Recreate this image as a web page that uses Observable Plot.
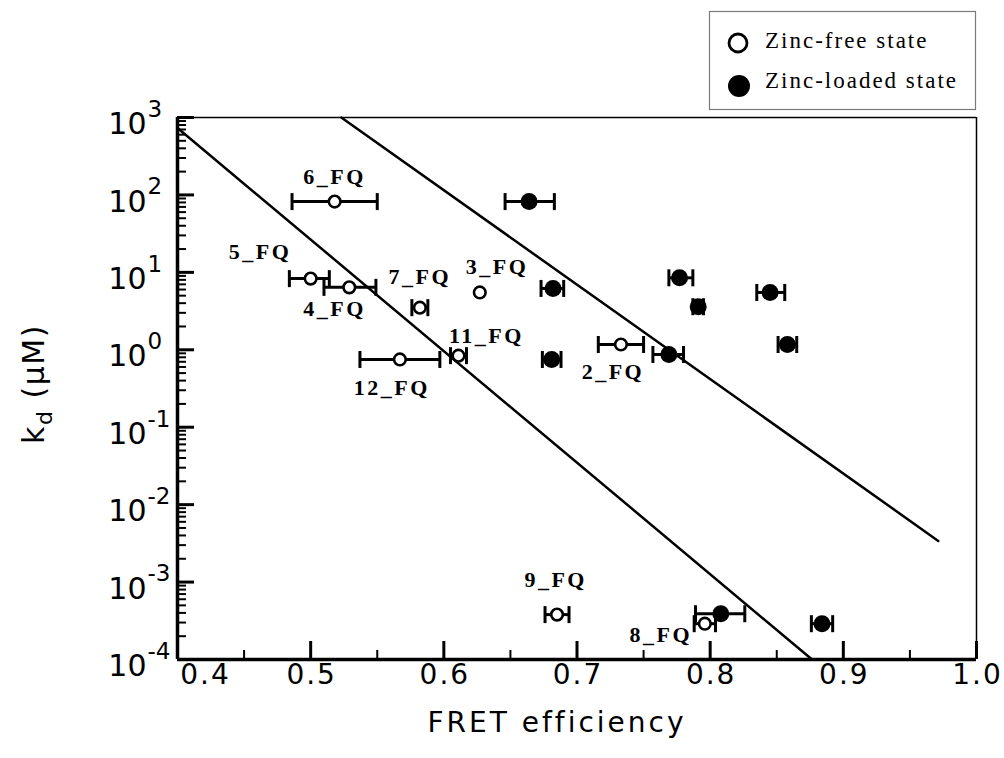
<!DOCTYPE html>
<html>
<head>
<meta charset="utf-8">
<script src="https://cdn.jsdelivr.net/npm/d3@7"></script>
<script src="https://cdn.jsdelivr.net/npm/@observablehq/plot@0.6"></script>
<style>
  body { margin: 0; background: #fff; }
  #chart { position: relative; width: 1004px; height: 758px; }
</style>
</head>
<body>
<div id="chart"></div>
<script>
// ---- Zinc-free state (open circles) ----
const freeNames = ["6_FQ", "5_FQ", "4_FQ", "7_FQ", "3_FQ", "11_FQ", "12_FQ", "2_FQ", "9_FQ", "8_FQ"];
const freeFret = [0.518, 0.500, 0.529, 0.582, 0.627, 0.611, 0.567, 0.733, 0.685, 0.796];
const freeKd = [82, 8.3, 6.4, 3.5, 5.5, 0.84, 0.75, 1.17, 3.8e-4, 2.9e-4];
const freeErrLo = [0.486, 0.484, 0.510, 0.576, null, 0.605, 0.537, 0.716, 0.676, 0.788];
const freeErrHi = [0.550, 0.514, 0.549, 0.588, null, 0.617, 0.597, 0.750, 0.694, 0.804];
const freeLabelFret = [0.518, 0.462, 0.518, 0.582, 0.640, 0.632, 0.561, 0.727, 0.684, 0.763];
const freeLabelKd = [173, 18.1, 3.41, 8.85, 11.9, 1.53, 0.326, 0.525, 1.05e-3, 2.1e-4];

// ---- Zinc-loaded state (filled circles) ----
const loadedFret = [0.664, 0.682, 0.777, 0.791, 0.845, 0.858, 0.681, 0.769, 0.808, 0.884];
const loadedKd = [82, 6.2, 8.5, 3.6, 5.5, 1.17, 0.75, 0.87, 3.9e-4, 2.9e-4];
const loadedErrLo = [0.646, 0.673, 0.769, 0.787, 0.835, 0.851, 0.674, 0.757, 0.789, 0.876];
const loadedErrHi = [0.683, 0.690, 0.787, 0.795, 0.856, 0.865, 0.688, 0.780, 0.826, 0.892];

// ---- Two straight lines (log-linear) ----
const line1Fret = [0.400, 0.8765];
const line1Kd = [731, 1e-4];
const line2Fret = [0.523, 0.9713];
const line2Kd = [1000, 3.4e-3];

// ---- Axes ----
const xMajorTicks = [0.4, 0.5, 0.6, 0.7, 0.8, 0.9, 1.0];
const xMinorTicks = [0.45, 0.55, 0.65, 0.75, 0.85, 0.95];
const xTickLabels = ["0.4", "0.5", "0.6", "0.7", "0.8", "0.9", "1.0"];
const yMajorTicks = [1e-4, 1e-3, 1e-2, 1e-1, 1e0, 1e1, 1e2, 1e3];
const yExponentLabels = ["-4", "-3", "-2", "-1", "0", "1", "2", "3"];
const yMinorMultipliers = [2, 3, 4, 5, 6, 7, 8, 9];
const yMinorTicks = yMajorTicks.slice(0, -1).flatMap(p => yMinorMultipliers.map(m => m * p));
const legendLabels = ["Zinc-free state", "Zinc-loaded state"];
const xTitle = "FRET efficiency";

const freeIdx = d3.range(freeNames.length);
const freeErrIdx = freeIdx.filter(i => freeErrLo[i] != null);
const loadedIdx = d3.range(loadedFret.length);

const serif = "'Liberation Serif', 'Times New Roman', Times, serif";
const sans = "'DejaVu Sans', sans-serif";

const capSymbol = {
  draw(context, size) {
    const r = Math.sqrt(size / Math.PI);
    context.moveTo(0, -r);
    context.lineTo(0, r);
  }
};

const plot = Plot.plot({
  width: 1004,
  height: 758,
  marginLeft: 177,
  marginRight: 28,
  marginTop: 117,
  marginBottom: 99,
  style: { fontFamily: sans, background: "white", overflow: "visible" },
  x: { domain: [0.4, 1.0] },
  y: { type: "log", domain: [1e-4, 1e3] },
  marks: [
    // frame (thin top/right)
    Plot.ruleX([1.0], { stroke: "black", strokeWidth: 1.5 }),
    Plot.ruleY([1e3], { stroke: "black", strokeWidth: 1.5 }),
    // inward ticks
    Plot.axisY(yMajorTicks, { tickSize: 17, dx: 17, strokeWidth: 3, fill: "none", label: null }),
    Plot.axisY(yMinorTicks, { tickSize: 9, dx: 9, strokeWidth: 2, fill: "none", label: null }),
    Plot.axisX(xMajorTicks, { tickSize: 18, dy: -18, strokeWidth: 3, fill: "none", label: null }),
    Plot.axisX(xMinorTicks, { tickSize: 9, dy: -9, strokeWidth: 2, fill: "none", label: null }),
    // thick left/bottom axes
    Plot.ruleX([0.4], { stroke: "black", strokeWidth: 3.5 }),
    Plot.ruleY([1e-4], { stroke: "black", strokeWidth: 3.5 }),
    // y tick labels 10^n
    Plot.text(yMajorTicks, { y: d => d, frameAnchor: "left", text: () => "10", textAnchor: "end", dx: -31, dy: 7, fontSize: 30, fill: "black" }),
    Plot.text(yMajorTicks, { y: d => d, frameAnchor: "left", text: (d, i) => yExponentLabels[i], textAnchor: "start", dx: -30, dy: -8, fontSize: 23, fill: "black" }),
    // x tick labels
    Plot.text(xMajorTicks.slice(1), { x: d => d, frameAnchor: "bottom", text: (d, i) => xTickLabels[i + 1], dy: 24, dx: 1, fontSize: 28, fill: "black" }),
    Plot.text(xMajorTicks.slice(0, 1), { x: d => d, frameAnchor: "bottom", text: (d, i) => xTickLabels[i], dy: 24, dx: 28, fontSize: 28, fill: "black" }),
    // x title
    Plot.text([xTitle], { frameAnchor: "bottom", text: d => d, dy: 72, dx: -20, fontSize: 28, fill: "black" }),
    // lines
    Plot.line(d3.range(line1Fret.length), { x: i => line1Fret[i], y: i => line1Kd[i], stroke: "black", strokeWidth: 2.5 }),
    Plot.line(d3.range(line2Fret.length), { x: i => line2Fret[i], y: i => line2Kd[i], stroke: "black", strokeWidth: 2.5 }),
    // error bars
    Plot.ruleY(freeErrIdx, { y: i => freeKd[i], x1: i => freeErrLo[i], x2: i => freeErrHi[i], stroke: "black", strokeWidth: 3 }),
    Plot.dot(freeErrIdx, { x: i => freeErrLo[i], y: i => freeKd[i], symbol: capSymbol, r: 8.5, stroke: "black", fill: "none", strokeWidth: 3 }),
    Plot.dot(freeErrIdx, { x: i => freeErrHi[i], y: i => freeKd[i], symbol: capSymbol, r: 8.5, stroke: "black", fill: "none", strokeWidth: 3 }),
    Plot.ruleY(loadedIdx, { y: i => loadedKd[i], x1: i => loadedErrLo[i], x2: i => loadedErrHi[i], stroke: "black", strokeWidth: 3 }),
    Plot.dot(loadedIdx, { x: i => loadedErrLo[i], y: i => loadedKd[i], symbol: capSymbol, r: 8.5, stroke: "black", fill: "none", strokeWidth: 3 }),
    Plot.dot(loadedIdx, { x: i => loadedErrHi[i], y: i => loadedKd[i], symbol: capSymbol, r: 8.5, stroke: "black", fill: "none", strokeWidth: 3 }),
    // points
    Plot.dot(freeIdx, { x: i => freeFret[i], y: i => freeKd[i], r: 5.8, fill: "white", stroke: "black", strokeWidth: 2.6 }),
    Plot.dot(loadedIdx, { x: i => loadedFret[i], y: i => loadedKd[i], r: 8.5, fill: "black", stroke: "none" }),
    // point labels
    Plot.text(freeIdx, { x: i => freeLabelFret[i], y: i => freeLabelKd[i], text: i => freeNames[i], fontFamily: serif, fontWeight: "bold", fontSize: 22, fill: "black" })
  ]
});

document.getElementById("chart").appendChild(plot);

const svg = d3.select(plot);
// letter spacing to match the wide glyphs of the original
svg.selectAll("text").each(function () {
  const t = this.textContent;
  if (freeNames.includes(t)) this.setAttribute("letter-spacing", "2.5px");
  else if (xTickLabels.includes(t)) this.setAttribute("letter-spacing", "2px");
  else if (t === xTitle) this.setAttribute("letter-spacing", "3px");
});

// Legend
const lg = svg.append("g").attr("aria-label", "legend");
lg.append("rect").attr("x", 709.5).attr("y", 11.5).attr("width", 266).attr("height", 98)
  .attr("fill", "white").attr("stroke", "#7a7a7a").attr("stroke-width", 1.2);
lg.append("circle").attr("cx", 738).attr("cy", 43).attr("r", 9).attr("fill", "white").attr("stroke", "black").attr("stroke-width", 2.8);
lg.append("circle").attr("cx", 739).attr("cy", 86).attr("r", 11).attr("fill", "black");
legendLabels.forEach((t, i) => {
  lg.append("text").attr("x", 765).attr("y", i === 0 ? 48 : 88)
    .attr("text-anchor", "start")
    .attr("font-family", serif).attr("font-size", 23)
    .attr("letter-spacing", "2px").attr("fill", "black").text(t);
});

// Y-axis title with subscript
const yt = svg.append("text").attr("aria-label", "y-title")
  .attr("transform", "translate(44,384) rotate(-90)")
  .attr("text-anchor", "middle").attr("font-family", sans)
  .attr("font-size", 30).attr("letter-spacing", "1.5px").attr("fill", "black");
yt.append("tspan").text("k");
yt.append("tspan").attr("font-size", 22).attr("dy", 8).text("d");
yt.append("tspan").attr("dy", -8).text(" (μM)");
</script>
</body>
</html>
